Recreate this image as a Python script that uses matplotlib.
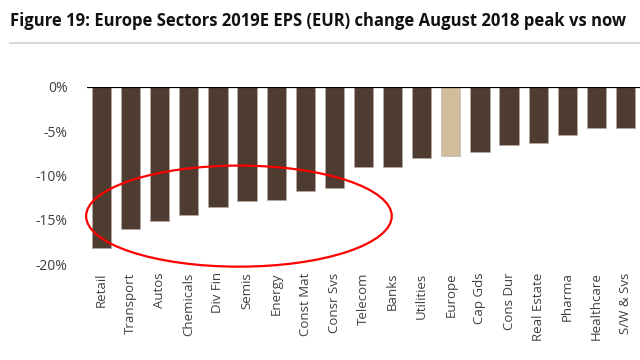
import matplotlib
matplotlib.use("Agg")
import matplotlib.pyplot as plt
from matplotlib.patches import Ellipse
from matplotlib.ticker import FuncFormatter

sectors = ["Retail", "Transport", "Autos", "Chemicals", "Div Fin", "Semis", "Energy",
           "Const Mat", "Consr Svs", "Telecom", "Banks", "Utilities", "Europe", "Cap Gds",
           "Cons Dur", "Real Estate", "Pharma", "Healthcare", "S/W & Svs"]
eps_change = [-18.2, -16.0, -15.1, -14.5, -13.6, -12.9, -12.8, -11.8, -11.4, -9.1, -9.1,
              -8.0, -7.85, -7.4, -6.6, -6.3, -5.4, -4.7, -4.7]
highlight = "Europe"
yticks = [0, -5, -10, -15, -20]

BROWN = "#4e3c31"; BEIGE = "#cfbd9b"; GREY = "#404040"

fig = plt.figure(figsize=(6.4, 3.6), dpi=100)
fig.text(0.016, 0.943, "Figure 19: Europe Sectors 2019E EPS (EUR) change August 2018 peak vs now",
         fontsize=12, fontweight="bold", family="Open Sans", color="#111111", va="center")
fig.add_artist(plt.Line2D([0.016, 1.0], [0.88, 0.88], color="#d9d9d9", lw=1.5))

ax = fig.add_axes([87 / 640, 1 - 264 / 360, 553 / 640, (264 - 86.7) / 360])
x = list(range(len(sectors)))
colors = [BEIGE if s == highlight else BROWN for s in sectors]
ax.bar(x, eps_change, width=0.66, color=colors, edgecolor="#b8aca4", linewidth=0.4, zorder=2)
ax.axhline(0, color="black", lw=1.6, zorder=3)
ax.set_xlim(-0.5, len(sectors) - 0.5)
ax.set_ylim(-20, 0)
ax.set_yticks(yticks)
ax.yaxis.set_major_formatter(FuncFormatter(lambda v, _: f"{v:.0f}%"))
ax.set_xticks(x)
ax.set_xticklabels(sectors, rotation=90, family="Open Sans", fontsize=9.5, color=GREY)
for lab in ax.get_yticklabels():
    lab.set_family("Open Sans"); lab.set_fontsize(10); lab.set_color(GREY)
ax.tick_params(length=0)
ax.tick_params(axis="y", pad=14)
ax.tick_params(axis="x", pad=6)
for s in ax.spines.values():
    s.set_visible(False)

ax.add_patch(Ellipse((4.72, -14.6), 10.5, 11.4, fill=False, edgecolor="#ff0000",
                     lw=1.6, clip_on=False, zorder=4))

fig.savefig("out.png", dpi=100)
